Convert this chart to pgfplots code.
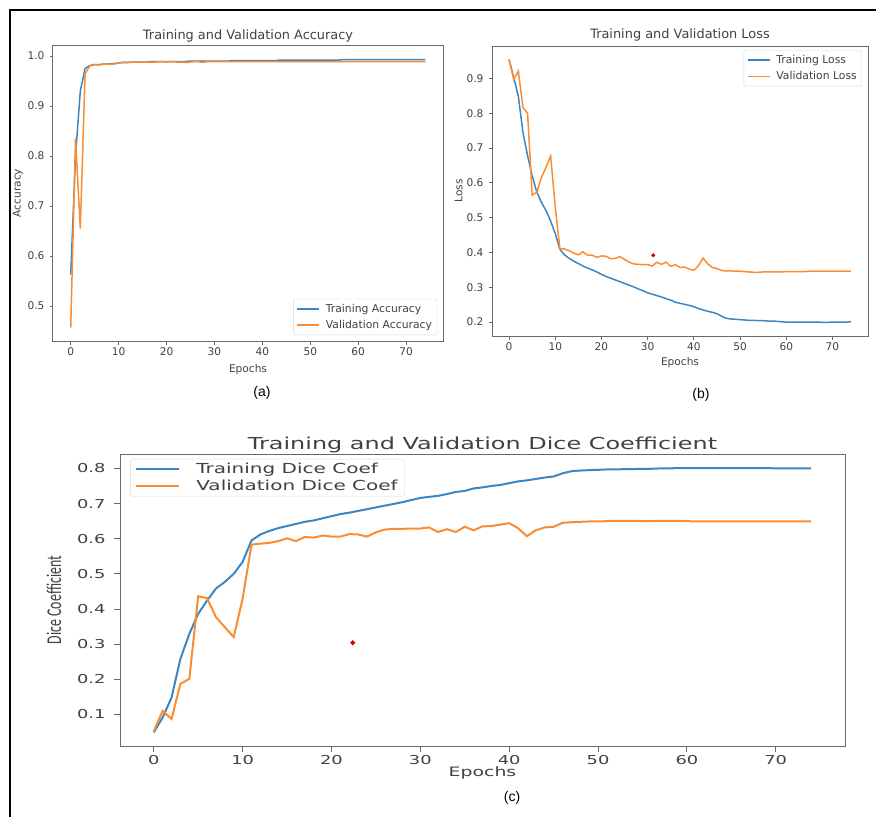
\documentclass[border=0pt]{standalone}
\usepackage{fontspec}
\setmainfont{DejaVu Sans}
\newfontfamily\widefont[FakeStretch=1.45]{DejaVu Sans}
\newfontfamily\condfont[FakeStretch=0.66]{Carlito}
\newfontfamily\capfont{Liberation Sans}
\usepackage{pgfplots}
\usepackage{pgfplotstable}
\pgfplotsset{compat=1.18}
\definecolor{mplblue}{RGB}{60,135,195}
\definecolor{mplorange}{RGB}{250,140,50}
\definecolor{txtgray}{RGB}{65,65,65}
\definecolor{spinegray}{RGB}{105,105,105}

% accuracy: epoch, training, validation
\pgfplotstableread{
ep tr va
0 0.563 0.457
1 0.800 0.835
2 0.930 0.655
3 0.975 0.965
4 0.981 0.980
5 0.983 0.983
6 0.983 0.982
7 0.984 0.984
8 0.984 0.984
9 0.985 0.984
10 0.986 0.986
11 0.987 0.988
12 0.987 0.988
13 0.988 0.988
14 0.988 0.988
15 0.988 0.988
16 0.988 0.988
17 0.989 0.988
18 0.989 0.988
19 0.989 0.989
20 0.989 0.988
21 0.989 0.989
22 0.989 0.988
23 0.989 0.988
24 0.989 0.987
25 0.990 0.988
26 0.990 0.989
27 0.990 0.988
28 0.990 0.988
29 0.990 0.989
30 0.990 0.989
31 0.990 0.989
32 0.990 0.989
33 0.990 0.989
34 0.991 0.989
35 0.991 0.989
36 0.991 0.989
37 0.991 0.989
38 0.991 0.989
39 0.991 0.989
40 0.991 0.989
41 0.991 0.989
42 0.991 0.989
43 0.991 0.989
44 0.992 0.989
45 0.992 0.989
46 0.992 0.989
47 0.992 0.989
48 0.992 0.989
49 0.992 0.989
50 0.992 0.989
51 0.992 0.989
52 0.992 0.989
53 0.992 0.989
54 0.992 0.989
55 0.992 0.989
56 0.992 0.989
57 0.993 0.989
58 0.993 0.989
59 0.993 0.989
60 0.993 0.989
61 0.993 0.989
62 0.993 0.989
63 0.993 0.989
64 0.993 0.989
65 0.993 0.989
66 0.993 0.989
67 0.993 0.989
68 0.993 0.989
69 0.993 0.989
70 0.993 0.989
71 0.993 0.989
72 0.993 0.989
73 0.993 0.989
74 0.993 0.989
}\acctab

% loss: epoch, training, validation
\pgfplotstableread{
ep tr va
0 0.954 0.955
1 0.902 0.897
2 0.849 0.921
3 0.744 0.816
4 0.678 0.800
5 0.620 0.565
6 0.573 0.573
7 0.544 0.615
8 0.520 0.645
9 0.490 0.677
10 0.454 0.530
11 0.409 0.410
12 0.393 0.410
13 0.383 0.405
14 0.375 0.398
15 0.368 0.393
16 0.361 0.402
17 0.355 0.392
18 0.350 0.392
19 0.344 0.386
20 0.337 0.390
21 0.331 0.389
22 0.326 0.382
23 0.321 0.383
24 0.316 0.388
25 0.311 0.380
26 0.306 0.372
27 0.301 0.367
28 0.295 0.366
29 0.290 0.365
30 0.284 0.365
31 0.280 0.361
32 0.276 0.372
33 0.272 0.366
34 0.267 0.372
35 0.263 0.360
36 0.257 0.365
37 0.254 0.357
38 0.251 0.358
39 0.248 0.352
40 0.244 0.349
41 0.239 0.362
42 0.235 0.384
43 0.231 0.367
44 0.228 0.357
45 0.224 0.354
46 0.217 0.348
47 0.211 0.347
48 0.209 0.347
49 0.208 0.346
50 0.207 0.346
51 0.206 0.345
52 0.205 0.344
53 0.205 0.343
54 0.204 0.343
55 0.204 0.344
56 0.203 0.344
57 0.203 0.344
58 0.202 0.344
59 0.201 0.344
60 0.200 0.345
61 0.200 0.345
62 0.200 0.345
63 0.200 0.345
64 0.200 0.345
65 0.200 0.346
66 0.200 0.346
67 0.200 0.346
68 0.199 0.346
69 0.199 0.346
70 0.200 0.346
71 0.200 0.346
72 0.200 0.346
73 0.200 0.346
74 0.201 0.346
}\losstab

% dice coefficient: epoch, training, validation
\pgfplotstableread{
ep tr va
0 0.049 0.052
1 0.091 0.110
2 0.148 0.087
3 0.258 0.187
4 0.329 0.201
5 0.386 0.436
6 0.424 0.431
7 0.458 0.377
8 0.477 0.348
9 0.500 0.320
10 0.534 0.429
11 0.595 0.583
12 0.612 0.586
13 0.622 0.588
14 0.630 0.593
15 0.636 0.601
16 0.642 0.593
17 0.648 0.605
18 0.652 0.603
19 0.658 0.609
20 0.664 0.606
21 0.670 0.606
22 0.674 0.613
23 0.679 0.612
24 0.684 0.606
25 0.689 0.618
26 0.694 0.626
27 0.699 0.628
28 0.704 0.628
29 0.710 0.629
30 0.716 0.629
31 0.719 0.632
32 0.722 0.619
33 0.727 0.627
34 0.733 0.619
35 0.736 0.634
36 0.743 0.624
37 0.746 0.635
38 0.750 0.636
39 0.753 0.640
40 0.758 0.644
41 0.763 0.630
42 0.766 0.607
43 0.770 0.624
44 0.774 0.632
45 0.777 0.634
46 0.786 0.645
47 0.792 0.647
48 0.794 0.648
49 0.795 0.649
50 0.796 0.649
51 0.797 0.650
52 0.797 0.651
53 0.798 0.651
54 0.798 0.651
55 0.799 0.650
56 0.799 0.650
57 0.800 0.651
58 0.800 0.651
59 0.801 0.651
60 0.801 0.650
61 0.801 0.649
62 0.801 0.649
63 0.801 0.649
64 0.801 0.649
65 0.801 0.649
66 0.801 0.649
67 0.801 0.649
68 0.801 0.649
69 0.801 0.649
70 0.800 0.649
71 0.800 0.649
72 0.800 0.649
73 0.800 0.649
74 0.800 0.649
}\dicetab

\pgfplotsset{
  mpl/.style={
    scale only axis,
    axis line style={spinegray, line width=1bp},
    tick pos=left, tick align=outside,
    major tick length=3.5bp,
    tick style={spinegray, line width=0.8bp},
    /pgf/number format/assume math mode=true,
    ticklabel style={txtgray, font=\fontsize{10.6bp}{12bp}\selectfont},
    label style={txtgray, font=\fontsize{10.6bp}{12bp}\selectfont},
    title style={txtgray, font=\fontsize{12.9bp}{15bp}\selectfont, anchor=base, yshift=-6pt},
    xlabel style={anchor=base},
    ylabel style={anchor=center},
    legend cell align=left,
    legend style={draw=black!15, rounded corners=2bp, fill=white, fill opacity=0.9, text opacity=1,
      font=\fontsize{10.8bp}{12bp}\selectfont, text=txtgray, inner xsep=3bp, inner ysep=3bp,
      row sep=2.5bp, column sep=4bp},
    legend image code/.code={\draw[##1, line width=1.5bp] (0bp,0bp) -- (22bp,0bp);},
    every axis plot/.append style={line width=1.5bp},
  },
}

\begin{document}
\begin{tikzpicture}
\useasboundingbox (0,0) rectangle (876bp,-817bp);
\draw[line width=1.5bp] (10bp,-817bp) -- (10bp,-10bp) -- (876bp,-10bp);

% (a) accuracy
\begin{axis}[mpl,
  at={(53bp,-45bp)}, anchor=north west,
  width=390bp, height=296bp,
  xmin=-3.7, xmax=77.7, ymin=0.430, ymax=1.022,
  xtick={0,10,...,70}, ytick={0.5,0.6,...,1.0},
  yticklabel style={/tikz/xshift=-1.5bp, /pgf/number format/.cd, fixed, fixed zerofill, precision=1},
  title={Training and Validation Accuracy},
  title style={at={(axis description cs:0.5,1.020)}},
  xlabel={Epochs}, xlabel style={at={(axis description cs:0.5,-0.105)}},
  ylabel={Accuracy}, ylabel style={at={(axis description cs:-0.09,0.5)}},
  legend style={at={(0.985,0.02)}, anchor=south east},
]
\addplot[mplblue] table[x=ep, y=tr] {\acctab};
\addlegendentry{Training Accuracy}
\addplot[mplorange] table[x=ep, y=va] {\acctab};
\addlegendentry{Validation Accuracy}
\end{axis}
\node[font=\capfont\fontsize{14bp}{16bp}\selectfont] at (262bp,-393bp) {(a)};

% (b) loss
\begin{axis}[mpl,
  at={(492bp,-46bp)}, anchor=north west,
  width=376bp, height=290bp,
  xmin=-3.7, xmax=77.7, ymin=0.160, ymax=0.993,
  xtick={0,10,...,70}, ytick={0.2,0.3,...,0.9},
  yticklabel style={/tikz/xshift=-1.5bp, /pgf/number format/.cd, fixed, fixed zerofill, precision=1},
  title={Training and Validation Loss},
  title style={at={(axis description cs:0.5,1.026)}},
  xlabel={Epochs}, xlabel style={at={(axis description cs:0.5,-0.103)}},
  ylabel={Loss}, ylabel style={at={(axis description cs:-0.089,0.5)}},
  legend style={at={(0.984,0.986)}, anchor=north east},
]
\addplot[mplblue] table[x=ep, y=tr] {\losstab};
\addlegendentry{Training Loss}
\addplot[mplorange] table[x=ep, y=va] {\losstab};
\addlegendentry{Validation Loss}
\addplot[only marks, mark=*, mark size=1.1bp, red!80!black, forget plot] coordinates {(31.2,0.392)};
\end{axis}
\node[font=\capfont\fontsize{14bp}{16bp}\selectfont] at (701bp,-395bp) {(b)};

% (c) dice coefficient
\begin{axis}[mpl,
  at={(120bp,-454bp)}, anchor=north west,
  width=725bp, height=292bp,
  xmin=-3.8, xmax=77.8, ymin=0.010, ymax=0.841,
  xtick={0,10,...,70}, ytick={0.1,0.2,...,0.8},
  major tick length=6bp,
  ticklabel style={font=\widefont\fontsize{12.3bp}{14bp}\selectfont},
  yticklabel style={/tikz/xshift=-5bp, /pgf/number format/.cd, fixed, fixed zerofill, precision=1},
  title={Training and Validation Dice Coefficient},
  title style={font=\widefont\fontsize{16.5bp}{19bp}\selectfont, at={(axis description cs:0.5,1.016)}},
  xlabel={Epochs}, xlabel style={font=\widefont\fontsize{13bp}{15bp}\selectfont, at={(axis description cs:0.5,-0.103)}},
  ylabel={Dice Coefficient}, ylabel style={font=\condfont\fontsize{21bp}{23bp}\selectfont, at={(axis description cs:-0.091,0.5)}},
  legend style={at={(0.014,0.983)}, anchor=north west, font=\widefont\fontsize{13.8bp}{15bp}\selectfont,
    row sep=1bp, column sep=14bp, inner xsep=5bp, inner ysep=2bp},
  legend image code/.code={\draw[#1, line width=2bp] (0bp,0bp) -- (43bp,0bp);},
  every axis plot/.append style={line width=2bp},
]
\addplot[mplblue] table[x=ep, y=tr] {\dicetab};
\addlegendentry{Training Dice Coef}
\addplot[mplorange] table[x=ep, y=va] {\dicetab};
\addlegendentry{Validation Dice Coef}
\addplot[only marks, mark=*, mark size=1.2bp, red!80!black, forget plot] coordinates {(22.4,0.304)};
\end{axis}
\node[font=\capfont\fontsize{14bp}{16bp}\selectfont] at (512bp,-798bp) {(c)};
\end{tikzpicture}
\end{document}
